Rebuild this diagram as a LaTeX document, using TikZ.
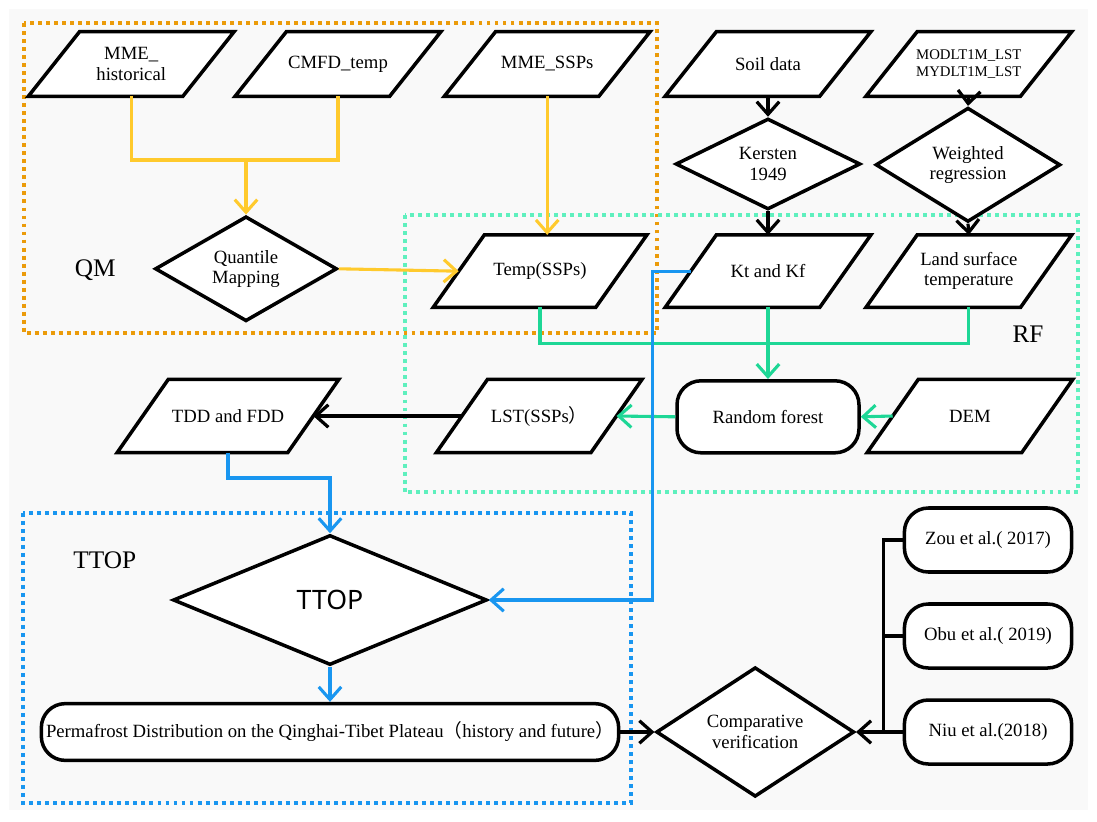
\documentclass[tikz,border=0pt]{standalone}
\usepackage{fontspec}
\setmainfont{Liberation Serif}
\newfontfamily\cjk{Noto Sans CJK SC}
\newfontfamily\ttopfont{Noto Sans}
\usepackage{tikz}
\usetikzlibrary{arrows.meta, shapes.geometric}

\definecolor{qmorange}{RGB}{235,155,10}
\definecolor{qmyellow}{RGB}{255,202,45}
\definecolor{rfgreen}{RGB}{95,240,190}
\definecolor{linkgreen}{RGB}{30,215,150}
\definecolor{ttopblue}{RGB}{25,150,240}
\definecolor{bggray}{RGB}{249,249,249}

\begin{document}
\begin{tikzpicture}[
	font=\fontsize{13.3}{14.5}\selectfont,
	para/.style={
		rectangle,
		minimum width=3.85cm,
		minimum height=1.6cm,
		inner sep=1pt,
		align=center,
		append after command={\pgfextra{
			\let\paranode\tikzlastnode
			\draw[line width=2.5pt, fill=white]
			([xshift=-0.64cm]\paranode.south west) -- ([xshift=-0.64cm]\paranode.south east)
			-- ([xshift=0.64cm]\paranode.north east) -- ([xshift=0.64cm]\paranode.north west)
			-- cycle;
		}}
	},
	decide/.style={
		diamond,
		draw=black,
		fill=white,
		line width=2.5pt,
		inner sep=0pt,
		align=center
	},
	roundbox/.style={
		rectangle,
		rounded corners=0.6cm,
		draw=black,
		fill=white,
		line width=2.5pt,
		align=center
	},
	groupbox/.style={
		line width=3pt,
		dash pattern=on 2.8pt off 2.9pt
	},
	arr/.style={-{Straight Barb[length=9pt,width=16pt]}},
	yline/.style={draw=qmyellow, line width=2.2pt},
	gline/.style={draw=linkgreen, line width=2.2pt},
	bline/.style={draw=ttopblue, line width=2.2pt},
	kline/.style={draw=black, line width=2.3pt},
	biglabel/.style={font=\fontsize{18}{20}\selectfont}
	]
	
	% Background
	\useasboundingbox (0,0) rectangle (27.425,-20.525);
	\fill[bggray] (0.22,-0.22) rectangle (27.2,-20.25);
	
	% Group boxes
	\draw[groupbox, draw=qmorange] (0.6,-0.58) rectangle (16.42,-8.32);
	\draw[groupbox, draw=rfgreen] (10.12,-5.38) rectangle (26.95,-12.3);
	\draw[groupbox, draw=ttopblue] (0.58,-12.82) rectangle (15.78,-20.08);
	
	\node[biglabel] at (2.38,-6.75) {QM};
	\node[biglabel] at (25.7,-8.35) {RF};
	\node[biglabel] at (2.62,-14.0) {TTOP};
	
	% Input data
	\node[para] (hist) at (3.28,-1.6) {MME\_\\historical};
	\node[para] (cmfd) at (8.45,-1.6) {CMFD\_temp};
	\node[para] (sspin) at (13.68,-1.6) {MME\_SSPs};
	\node[para] (soil) at (19.2,-1.6) {Soil data};
	\node[para, font=\fontsize{10.5}{12}\selectfont] (modis) at (24.22,-1.6)
	{MODLT1M\_LST\\MYDLT1M\_LST};
	
	% Methods
	\node[decide, minimum width=4.55cm, minimum height=2.15cm] (qm) at (6.15,-6.72)
	{Quantile\\Mapping};
	\node[decide, minimum width=4.62cm, minimum height=2.08cm] (kersten) at (19.2,-4.1)
	{Kersten\\1949};
	\node[decide, minimum width=4.62cm, minimum height=2.08cm] (wreg) at (24.2,-4.12)
	{Weighted\\regression};
	
	% Second row
	\node[para, minimum width=4.05cm, minimum height=1.8cm] (temp) at (13.5,-6.78) {Temp(SSPs)};
	\node[para, minimum height=1.8cm] (ktkf) at (19.2,-6.78) {Kt and Kf};
	\node[para, minimum height=1.8cm] (lst) at (24.22,-6.78) {Land surface\\temperature};
	
	% Third row
	\node[para, minimum width=4.25cm, minimum height=1.82cm] (tdd) at (5.7,-10.4) {TDD and FDD};
	\node[para, minimum height=1.82cm] (lstssp) at (13.48,-10.4) {LST(SSPs{\cjk ）}};
	\node[roundbox, minimum width=4.55cm, minimum height=1.8cm] (rf) at (19.2,-10.42) {Random forest};
	\node[para, minimum height=1.82cm] (dem) at (24.25,-10.4) {DEM};
	
	% TTOP model and result
	\node[decide, minimum width=7.85cm, minimum height=3.25cm] (ttop) at (8.25,-15.0)
	{\ttopfont\fontsize{19}{22}\selectfont TTOP};
	\node[roundbox, minimum width=14.32cm, minimum height=1.42cm] (pd) at (8.25,-18.3)
	{Permafrost Distribution on the Qinghai-Tibet Plateau{\cjk （}history and future{\cjk ）}};
	
	% Verification
	\node[decide, minimum width=4.95cm, minimum height=2.8cm] (cv) at (18.88,-18.3)
	{Comparative\\verification};
	\node[roundbox, minimum width=4.18cm, minimum height=1.6cm] (zou) at (24.7,-13.5) {Zou et al.( 2017)};
	\node[roundbox, minimum width=4.18cm, minimum height=1.6cm] (obu) at (24.7,-15.9) {Obu et al.( 2019)};
	\node[roundbox, minimum width=4.18cm, minimum height=1.6cm] (niu) at (24.7,-18.3) {Niu et al.(2018)};
	
	% QM links
	\coordinate (qmjoin) at (6.15,-4.0);
	\draw[yline] (hist.south) |- (qmjoin) -| (cmfd.south);
	\draw[yline, arr] (qmjoin) -- (qm.north);
	\draw[yline, arr] (sspin.south) -- (sspin.south |- temp.north);
	\draw[yline, arr] (qm.east) -- (temp.west);
	
	% Black links
	\draw[kline, arr] (soil.south) -- (kersten.north);
	\draw[kline, arr] (kersten.south) -- (ktkf.north);
	\draw[kline, arr] (modis.south) -- (wreg.north);
	\draw[kline, arr] (wreg.south) -- (lst.north);
	\draw[kline, arr] (lstssp.west) -- (tdd.east);
	\draw[kline, arr] (pd.east) -- (cv.west);
	
	% RF links
	\coordinate (rfjoin) at (19.2,-8.58);
	\draw[gline] (temp.south) |- (rfjoin) -| (lst.south);
	\draw[gline, arr] (ktkf.south) -- (rf.north);
	\draw[gline, arr] (dem.west) -- (rf.east);
	\draw[gline, arr] (rf.west) -- (lstssp.east);
	
	% TTOP links
	\coordinate (tddturn) at (8.25,-11.95);
	\draw[bline, arr] (tdd.south) |- (tddturn) -- (ttop.north);
	\draw[bline, arr] (ktkf.west) -- ++(-0.95,0) |- (ttop.east);
	\draw[bline, arr] (ttop.south) -- (pd.north);
	
	% References
	\coordinate (refbus) at (22.08,-18.3);
	\draw[kline] (zou.west) -| (refbus);
	\draw[kline] (obu.west) -- (obu.west -| refbus);
	\draw[kline, arr] (niu.west) -- (cv.east);
	
\end{tikzpicture}
\end{document}
